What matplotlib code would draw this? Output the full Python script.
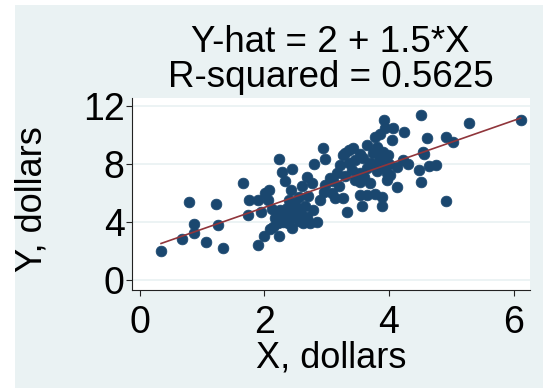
import matplotlib
matplotlib.use('Agg')
import matplotlib.pyplot as plt
from matplotlib.patches import Rectangle

plt.rcParams['font.family'] = ['Liberation Sans', 'DejaVu Sans']

# data
x_vals = [0.345, 0.68, 0.79, 0.87, 0.88, 1.07, 1.22, 1.26, 1.34, 1.66,
          1.75, 1.74, 1.90, 1.95, 1.90, 2.00, 2.01, 2.08, 2.09,
          2.24, 2.45, 2.29, 2.33, 2.68, 2.76, 2.80, 2.43, 2.06, 2.89,
          2.65, 2.49, 2.25, 2.36, 2.68, 2.73, 2.85, 2.17, 2.30, 2.46,
          2.14, 2.24, 2.30, 2.57, 2.38, 2.20, 2.40, 2.52, 2.60, 2.35,
          2.55, 2.62, 2.22, 2.45, 2.12, 2.78, 2.40, 2.55, 2.70, 2.95,
          2.60,
          2.94, 3.36, 3.64, 3.27, 3.53, 3.83, 3.91, 2.97, 3.36, 3.21,
          3.16, 3.05, 2.97, 3.85, 3.64, 3.53, 3.96, 4.12, 4.23, 3.69,
          3.53, 4.12, 3.96, 3.08, 3.13, 3.27, 3.53, 3.64, 3.77, 3.88,
          3.56, 3.89, 3.33, 3.92, 4.07, 4.24, 3.85, 3.77, 4.04, 3.43,
          3.29, 3.75, 3.80, 3.93, 3.45, 3.70, 3.40, 3.30, 3.60, 3.80,
          3.75, 4.00, 3.90, 3.45, 3.20, 3.10, 4.01, 3.58, 3.86, 3.98,
          4.51, 5.28, 6.11, 4.61, 4.91, 5.03, 4.55, 4.56, 4.48, 4.64,
          4.76, 4.51, 4.91, 4.30]
y_vals = [1.98, 2.83, 5.38, 3.84, 3.26, 2.64, 5.26, 3.78, 2.19, 6.70,
          5.52, 4.48, 5.52, 4.68, 2.41, 3.03, 6.00, 6.20, 3.53,
          8.34, 7.66, 7.47, 6.85, 7.08, 6.67, 7.98, 6.21, 5.52, 5.52,
          5.10, 5.26, 4.83, 4.94, 4.37, 3.95, 4.02, 4.26, 4.02, 4.37,
          3.68, 3.05, 4.48, 4.68, 3.91, 4.60, 4.60, 4.90, 4.40, 4.20,
          4.10, 3.90, 3.90, 3.60, 4.90, 4.80, 5.50, 5.70, 5.80, 6.10,
          6.50,
          9.12, 8.97, 9.31, 8.62, 8.67, 8.97, 8.85, 8.32, 8.09, 7.93,
          7.36, 7.01, 6.55, 8.50, 7.70, 7.36, 7.36, 7.82, 8.28, 6.67,
          6.78, 6.43, 6.90, 5.98, 5.63, 5.63, 5.86, 5.86, 5.93, 5.74,
          5.10, 5.10, 4.68, 11.03, 10.50, 10.19, 10.08, 9.88, 9.66, 9.08,
          8.74, 8.74, 9.20, 10.46, 8.30, 8.10, 7.60, 7.20, 7.10, 7.50,
          8.00, 8.00, 7.80, 6.90, 6.50, 6.80, 7.24, 8.40, 8.20, 8.60,
          11.38, 10.85, 11.03, 9.77, 9.88, 9.54, 8.85, 8.69, 7.59, 7.86,
          7.93, 6.74, 5.45, 8.00]

intercept = 2.0
slope = 1.5
title_lines = ['Y-hat = 2 + 1.5*X', 'R-squared = 0.5625']
x_ticks = [0, 2, 4, 6]
y_ticks = [0, 4, 8, 12]

W, H = 543, 388
fig = plt.figure(figsize=(W / 100, H / 100), dpi=100, facecolor='white')
fig.patches.append(Rectangle((15 / W, 0), 1 - 15 / W, 1 - 5 / H,
                             transform=fig.transFigure, facecolor='#eaf2f3',
                             edgecolor='none', zorder=-10))

ax = fig.add_axes([131.6 / W, 1 - 289.7 / H, (530 - 131.6) / W, (289.7 - 98) / H])
ax.set_facecolor('white')

ax.scatter(x_vals, y_vals, s=60, color='#1a476f', edgecolor='#1a476f',
           linewidth=0.5, zorder=3)
x0, x1 = min(x_vals), max(x_vals)
ax.plot([x0, x1], [intercept + slope * x0, intercept + slope * x1],
        color='#90353b', lw=1.2, zorder=4)

ax.set_xlim(-0.127, 6.26)
ax.set_ylim(-0.67, 12.55)
ax.set_xticks(x_ticks)
ax.set_yticks(y_ticks)
ax.grid(axis='y', color='#eaf2f3', lw=1.3, zorder=0)
ax.set_axisbelow(True)

for s in ['top', 'right']:
    ax.spines[s].set_visible(False)
for s in ['left', 'bottom']:
    ax.spines[s].set_color('#222222')
    ax.spines[s].set_linewidth(0.8)

ax.tick_params(axis='x', labelsize=27, length=4, width=0.8, pad=7, color='#222222')
ax.tick_params(axis='y', labelsize=27, length=4, width=0.8, pad=1, color='#222222')

ax.set_xlabel('X, dollars', fontsize=26)
ax.set_ylabel('Y, dollars', fontsize=26)
ax.xaxis.set_label_coords(0.5, -0.265)
ax.yaxis.set_label_coords(-0.205, 0.47)

cx = (131.6 + 530) / 2 / W
fig.text(cx, 1 - 52 / H, title_lines[0], ha='center', va='baseline', fontsize=26.5)
fig.text(cx, 1 - 86.6 / H, title_lines[1], ha='center', va='baseline', fontsize=26.5)

fig.savefig('out.png', dpi=100, facecolor=fig.get_facecolor())
